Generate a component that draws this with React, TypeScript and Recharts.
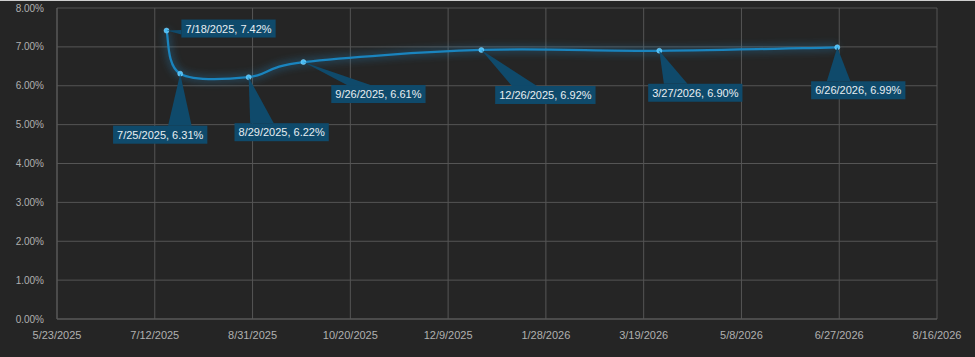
import React from 'react';
import { LineChart, Line, XAxis, YAxis, CartesianGrid, LabelList } from 'recharts';

const dates = ['7/18/2025', '7/25/2025', '8/29/2025', '9/26/2025', '12/26/2025', '3/27/2026', '6/26/2026'];
const rates = [7.42, 6.31, 6.22, 6.61, 6.92, 6.9, 6.99];
const xTickLabels = ['5/23/2025', '7/12/2025', '8/31/2025', '10/20/2025', '12/9/2025', '1/28/2026', '3/19/2026', '5/8/2026', '6/27/2026', '8/16/2026'];
const yTicks = [0, 1, 2, 3, 4, 5, 6, 7, 8];
// callout box centre offsets from their point (styling)
const calloutOffsets: [number, number][] = [[62, -2], [-20, 61], [33, 55], [75, 32], [64, 45], [36, 42], [21, 43]];

const toDay = (s: string) => {
  const [m, d, y] = s.split('/').map(Number);
  return Date.UTC(y, m - 1, d) / 86400000;
};
const fmtDay = (v: number) => {
  const dt = new Date(v * 86400000);
  return `${dt.getUTCMonth() + 1}/${dt.getUTCDate()}/${dt.getUTCFullYear()}`;
};

const labels = dates.map((d, i) => `${d}, ${rates[i].toFixed(2)}%`);
const data = dates.map((d, i) => ({ t: toDay(d), v: rates[i], label: labels[i] }));
const xTicks = xTickLabels.map(toDay);

function smoothCurve(context: any) {
  let pts: number[][] = [];
  return {
    areaStart() {},
    areaEnd() {},
    lineStart() { pts = []; },
    lineEnd() {
      const n = pts.length;
      if (!n) return;
      context.moveTo(pts[0][0], pts[0][1]);
      for (let i = 0; i < n - 1; i++) {
        const p0 = pts[i - 1] || pts[i];
        const p1 = pts[i];
        const p2 = pts[i + 1];
        const p3 = pts[i + 2] || p2;
        context.bezierCurveTo(
          p1[0] + (p2[0] - p0[0]) / 6, p1[1] + (p2[1] - p0[1]) / 6,
          p2[0] - (p3[0] - p1[0]) / 6, p2[1] - (p3[1] - p1[1]) / 6,
          p2[0], p2[1]
        );
      }
    },
    point(x: number, y: number) { pts.push([+x, +y]); },
  };
}

const charW = (c: string) => (/[0-9]/.test(c) ? 6.12 : c === '%' ? 9.78 : 3.06);
const textWidth = (s: string) => s.split('').reduce((a, c) => a + charW(c), 0);

const Callout = (props: any) => {
  const vb = props.viewBox || {};
  const px = vb.x ?? props.x;
  const py = vb.y ?? props.y;
  const value = String(props.value);
  const idx = labels.indexOf(value);
  if (idx < 0 || px == null) return null;
  const [ox, oy] = calloutOffsets[idx];
  const w = textWidth(value) + 8;
  const h = 18;
  const cx = px + ox;
  const cy = py + oy;
  const L = cx - w / 2, R = cx + w / 2, T = cy - h / 2, B = cy + h / 2;
  const dx = px - cx, dy = py - cy;
  let base: number[][];
  if (Math.abs(dx) / w > Math.abs(dy) / h) {
    const ex = dx < 0 ? L : R;
    const f = dy < 0 ? [2 / 12, 5 / 12] : [7 / 12, 10 / 12];
    base = [[ex, T + h * f[0]], [ex, T + h * f[1]]];
  } else {
    const ey = dy < 0 ? T : B;
    const f = dx < 0 ? [2 / 12, 5 / 12] : [7 / 12, 10 / 12];
    base = [[L + w * f[0], ey], [L + w * f[1], ey]];
  }
  const fill = '#0f4a6b';
  return (
    <g>
      <polygon points={`${px},${py} ${base[0][0]},${base[0][1]} ${base[1][0]},${base[1][1]}`} fill={fill} />
      <rect x={L} y={T} width={w} height={h} fill={fill} />
      <text x={cx} y={cy + 4} textAnchor="middle" fontSize={11} fill="#e8eef2" fontFamily="'Liberation Sans', Arial, sans-serif">
        {value}
      </text>
    </g>
  );
};

export default function App() {
  return (
    <div style={{ position: 'fixed', left: 0, top: 0, width: 975, height: 357, background: '#252525', overflow: 'hidden' }}>
      <style>{`
        .glow-line .recharts-line-curve { filter: drop-shadow(0 0 4px rgba(35,150,220,0.85)); }
        .glow-line .recharts-line-dot { filter: drop-shadow(0 0 2px rgba(80,190,255,0.9)); }
      `}</style>
      <div style={{ position: 'absolute', left: 0, top: 0, width: 975, height: 1, background: '#cfcfcf' }} />
      <LineChart width={975} height={357} data={data} margin={{ top: 8, right: 38, bottom: 0, left: 0 }}>
        <CartesianGrid stroke="#555555" strokeWidth={1} />
        <XAxis
          dataKey="t"
          type="number"
          domain={[xTicks[0], xTicks[xTicks.length - 1]]}
          ticks={xTicks}
          tickFormatter={fmtDay}
          height={38}
          tickLine={false}
          tickSize={0}
          tickMargin={12}
          axisLine={{ stroke: '#5a5a5a' }}
          tick={{ fill: '#b0b0b0', fontSize: 11, fontFamily: "'Liberation Sans', Arial, sans-serif" }}
          interval={0}
        />
        <YAxis
          type="number"
          domain={[0, 8]}
          ticks={yTicks}
          tickFormatter={(v: number) => `${v.toFixed(2)}%`}
          width={57}
          tickLine={false}
          tickSize={0}
          tickMargin={13}
          axisLine={{ stroke: '#5a5a5a' }}
          tick={{ fill: '#b0b0b0', fontSize: 10, fontFamily: "'Liberation Sans', Arial, sans-serif" }}
          interval={0}
        />
        <Line
          className="glow-line"
          dataKey="v"
          type={smoothCurve as any}
          stroke="#1a84be"
          strokeWidth={2.25}
          dot={{ r: 2.5, fill: '#48bdf5', stroke: '#8fd8ff', strokeWidth: 0.5 }}
          isAnimationActive={false}
        >
          <LabelList dataKey="label" content={Callout} />
        </Line>
      </LineChart>
    </div>
  );
}
